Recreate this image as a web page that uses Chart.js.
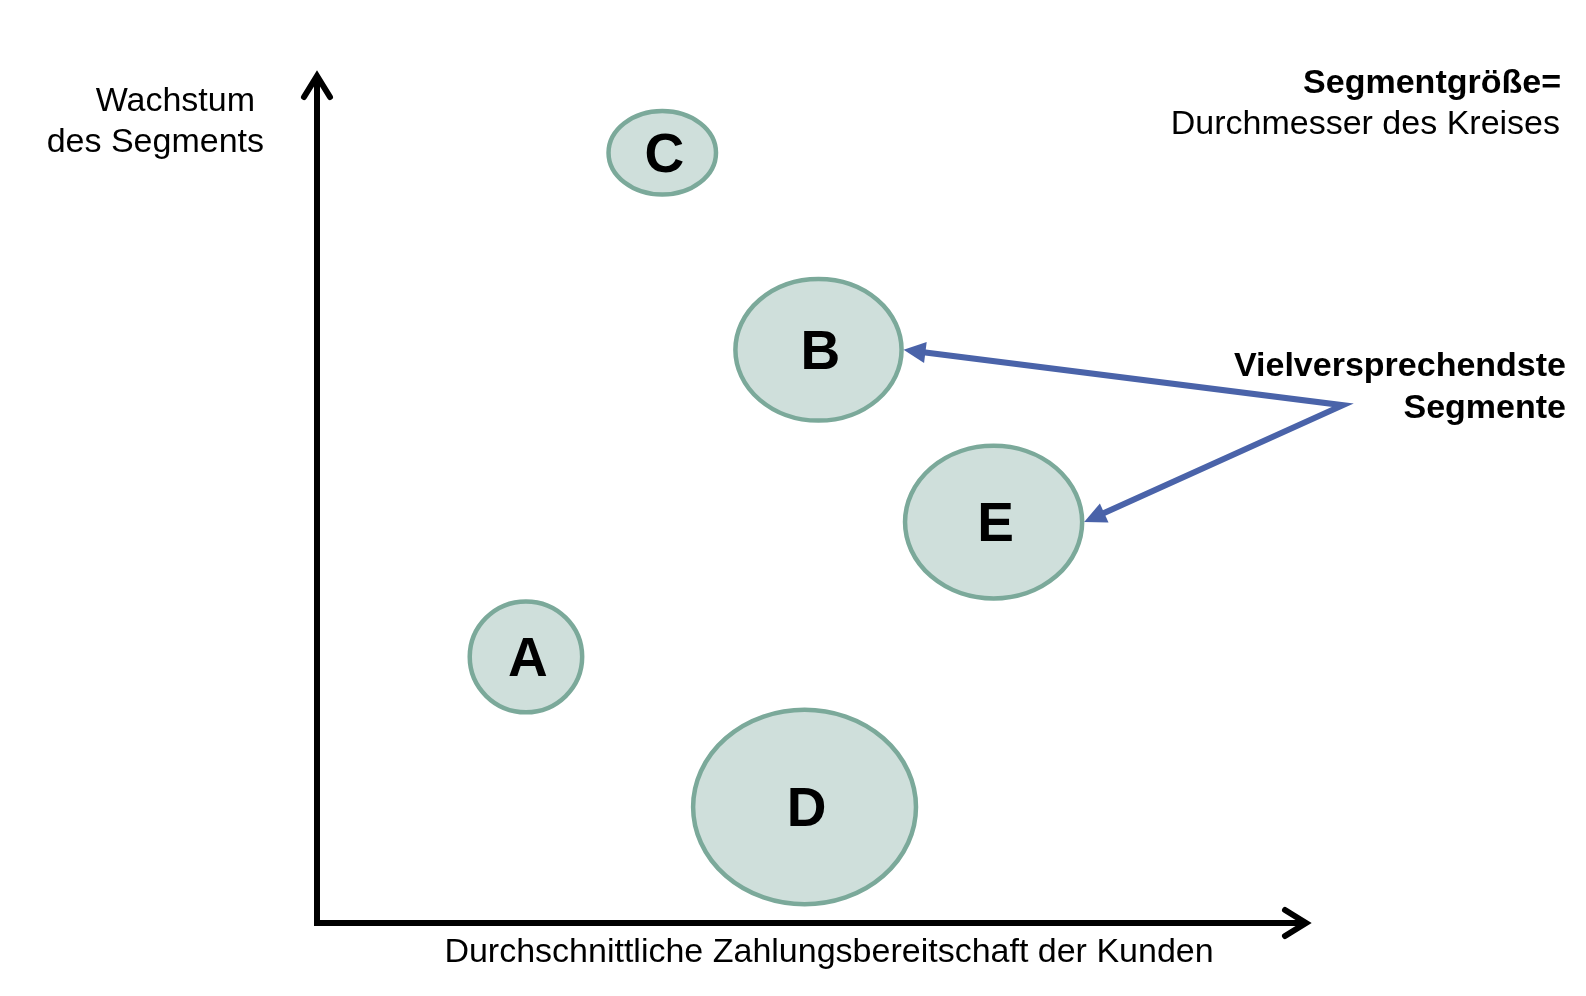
<!DOCTYPE html>
<html><head><meta charset="utf-8">
<script src="https://cdn.jsdelivr.net/npm/chart.js@4/dist/chart.umd.min.js"></script>
<style>html,body{margin:0;padding:0;background:#fff;overflow:hidden}#wrap{width:1586px;height:996px}</style>
</head><body><div id="wrap"><canvas id="c" width="1586" height="996"></canvas></div>
<script>
// ---- data ----
const segments = ['A', 'B', 'C', 'D', 'E'];
const payWillingness = [21.0, 50.4, 34.7, 49.0, 68.0];   // x (0..100)
const segmentGrowth = [31.2, 67.2, 90.3, 13.6, 47.0];    // y (0..100)
const diameterX = [11.3, 16.7, 10.8, 22.4, 17.8];        // segment size, x units
const diameterY = [13.0, 16.6, 9.8, 22.8, 17.9];         // segment size, y units
const promising = ['B', 'E'];
const calloutAnchor = [103.1, 60.7];
const xAxisTitle = 'Durchschnittliche Zahlungsbereitschaft der Kunden';
const yAxisTitle = ['Wachstum', 'des Segments'];
const sizeNote = ['Segmentgröße=', 'Durchmesser des Kreises'];
const calloutText = ['Vielversprechendste', 'Segmente'];

const FONT = '"Liberation Sans", Arial, Helvetica, sans-serif';
const FILL = '#cfdfdb', STROKE = '#7ba99a', BLUE = '#4a63a9';

const points = segments.map((s, i) => ({ x: payWillingness[i], y: segmentGrowth[i], label: s, w: diameterX[i], h: diameterY[i] }));

const diagramPlugin = {
  id: 'diagram',
  beforeDatasetsDraw(chart) {
    const ctx = chart.ctx;
    const { left, right, top, bottom } = chart.chartArea;
    ctx.save();
    ctx.strokeStyle = '#000';
    ctx.lineWidth = 6;
    ctx.lineJoin = 'miter';
    ctx.lineCap = 'butt';
    ctx.beginPath();
    ctx.moveTo(left, top + 8);
    ctx.lineTo(left, bottom);
    ctx.lineTo(right - 8, bottom);
    ctx.stroke();
    ctx.lineCap = 'round';
    ctx.beginPath();
    ctx.moveTo(left - 13, top + 27);
    ctx.lineTo(left, top + 6);
    ctx.lineTo(left + 13, top + 27);
    ctx.stroke();
    ctx.beginPath();
    ctx.moveTo(right - 27, bottom - 13);
    ctx.lineTo(right - 6, bottom);
    ctx.lineTo(right - 27, bottom + 13);
    ctx.stroke();
    ctx.restore();
  },
  afterDatasetsDraw(chart) {
    const ctx = chart.ctx;
    const xs = chart.scales.x, ys = chart.scales.y;
    const meta = chart.getDatasetMeta(0);
    meta.data.forEach((el, i) => {
      const p = points[i];
      const rx = Math.abs(xs.getPixelForValue(p.x + p.w / 2) - xs.getPixelForValue(p.x));
      const ry = Math.abs(ys.getPixelForValue(p.y + p.h / 2) - ys.getPixelForValue(p.y));
      ctx.save();
      ctx.beginPath();
      ctx.ellipse(el.x, el.y, rx, ry, 0, 0, Math.PI * 2);
      ctx.fillStyle = FILL;
      ctx.fill();
      ctx.lineWidth = 4.5;
      ctx.strokeStyle = STROKE;
      ctx.stroke();
      ctx.fillStyle = '#000';
      ctx.font = 'bold 55px ' + FONT;
      ctx.textAlign = 'center';
      ctx.textBaseline = 'alphabetic';
      ctx.fillText(p.label, el.x + 2, el.y + 19);
      ctx.restore();
    });
    const ax = xs.getPixelForValue(calloutAnchor[0]);
    const ay = ys.getPixelForValue(calloutAnchor[1]);
    const tips = promising.map(s => {
      const p = points[segments.indexOf(s)];
      return [xs.getPixelForValue(p.x + p.w / 2) + 2, ys.getPixelForValue(p.y)];
    });
    const headLen = 22, headHalf = 10.5;
    const bases = tips.map(([tx, ty]) => {
      const d = Math.hypot(ax - tx, ay - ty);
      const ux = (ax - tx) / d, uy = (ay - ty) / d;
      return { tx, ty, ux, uy, bx: tx + ux * (headLen - 2), by: ty + uy * (headLen - 2) };
    });
    ctx.save();
    ctx.strokeStyle = BLUE;
    ctx.fillStyle = BLUE;
    ctx.lineWidth = 6;
    ctx.lineJoin = 'miter';
    ctx.beginPath();
    ctx.moveTo(bases[0].bx, bases[0].by);
    ctx.lineTo(ax, ay);
    ctx.lineTo(bases[1].bx, bases[1].by);
    ctx.stroke();
    bases.forEach(b => {
      const px = -b.uy, py = b.ux;
      const hx = b.tx + b.ux * headLen, hy = b.ty + b.uy * headLen;
      ctx.beginPath();
      ctx.moveTo(b.tx, b.ty);
      ctx.lineTo(hx + px * headHalf, hy + py * headHalf);
      ctx.lineTo(hx - px * headHalf, hy - py * headHalf);
      ctx.closePath();
      ctx.fill();
    });
    ctx.restore();
  },
  afterDraw(chart) {
    const ctx = chart.ctx;
    ctx.save();
    ctx.fillStyle = '#000';
    ctx.textBaseline = 'alphabetic';
    ctx.font = '34px ' + FONT;
    ctx.textAlign = 'right';
    ctx.fillText(yAxisTitle[0], 255, 111);
    ctx.fillText(yAxisTitle[1], 264, 152);
    ctx.font = 'bold 34px ' + FONT;
    ctx.fillText(sizeNote[0], 1561, 93);
    ctx.font = '34px ' + FONT;
    ctx.fillText(sizeNote[1], 1560, 134);
    ctx.font = 'bold 34px ' + FONT;
    ctx.fillText(calloutText[0], 1566, 376);
    ctx.fillText(calloutText[1], 1566, 418);
    ctx.font = '34px ' + FONT;
    ctx.textAlign = 'center';
    ctx.fillText(xAxisTitle, 829, 962);
    ctx.restore();
  }
};

new Chart(document.getElementById('c'), {
  type: 'scatter',
  data: {
    datasets: [{
      label: 'Segmente',
      data: points,
      pointRadius: 0,
      pointHoverRadius: 0,
      clip: false
    }]
  },
  options: {
    responsive: false,
    devicePixelRatio: 1,
    animation: false,
    layout: { padding: { left: 317, right: 274, top: 70, bottom: 73 } },
    scales: {
      x: { type: 'linear', min: 0, max: 100, display: false },
      y: { type: 'linear', min: 0, max: 100, display: false }
    },
    plugins: { legend: { display: false }, tooltip: { enabled: false } },
    events: []
  },
  plugins: [diagramPlugin]
});
</script>
</body></html>
